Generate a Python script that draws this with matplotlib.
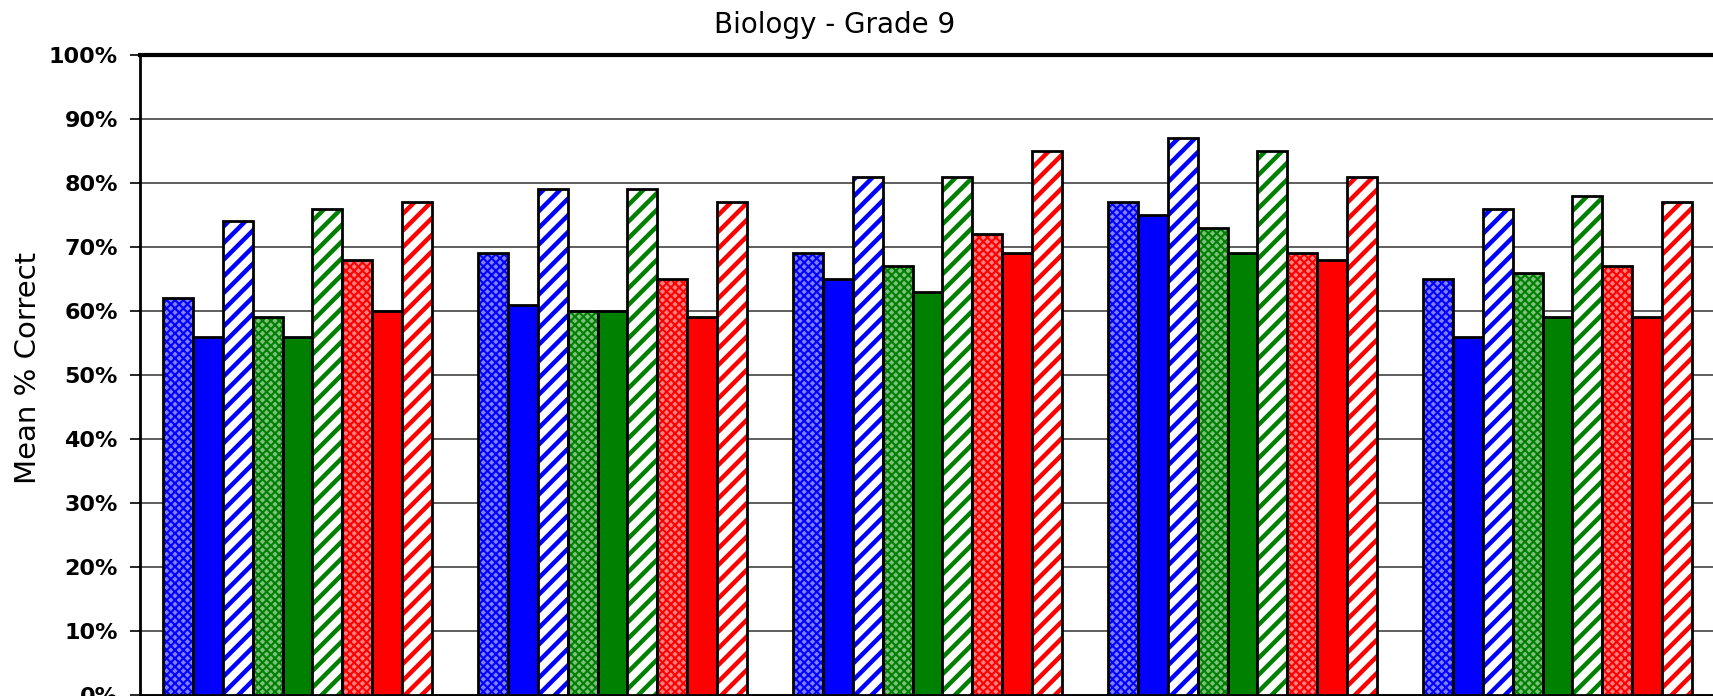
import numpy as np
import matplotlib
matplotlib.use('Agg')
import matplotlib.pyplot as plt

# Values (mean % correct), 5 groups x 9 series
groups = ['Group 1', 'Group 2', 'Group 3', 'Group 4', 'Group 5']
blue_cross = [62, 69, 69, 77, 65]
blue_solid = [56, 61, 65, 75, 56]
blue_stripe = [74, 79, 81, 87, 76]
green_cross = [59, 60, 67, 73, 66]
green_solid = [56, 60, 63, 69, 59]
green_stripe = [76, 79, 81, 85, 78]
red_cross = [68, 65, 72, 69, 67]
red_solid = [60, 59, 69, 68, 59]
red_stripe = [77, 77, 85, 81, 77]

series = [
    (blue_cross, '#0000FF', 'cross'),
    (blue_solid, '#0000FF', 'solid'),
    (blue_stripe, '#0000FF', 'stripe'),
    (green_cross, '#008000', 'cross'),
    (green_solid, '#008000', 'solid'),
    (green_stripe, '#008000', 'stripe'),
    (red_cross, '#FF0000', 'cross'),
    (red_solid, '#FF0000', 'solid'),
    (red_stripe, '#FF0000', 'stripe'),
]

tints = {'#0000FF': '#8080ff', '#008000': '#7fbf7f', '#FF0000': '#ff8080'}

fig = plt.figure(figsize=(17.13, 6.96), dpi=100)
# axes runs off the right and bottom edge like the cropped original
ax = fig.add_axes([140 / 1713, 1 / 696, 1575 / 1713, 640 / 696])

x = np.arange(len(groups))
w = 0.095
for i, (vals, col, style) in enumerate(series):
    pos = x + (i - 4) * w
    if style == 'solid':
        ax.bar(pos, vals, w, color=col, edgecolor='black', linewidth=2, zorder=3)
        continue
    if style == 'cross':
        with plt.rc_context({'hatch.linewidth': 1.5}):
            ax.bar(pos, vals, w, facecolor=tints[col], edgecolor=col,
                   hatch='xxxx', linewidth=0, zorder=3)
    else:
        with plt.rc_context({'hatch.linewidth': 3.2}):
            ax.bar(pos, vals, w, facecolor='white', edgecolor=col,
                   hatch='//', linewidth=0, zorder=3)
    ax.bar(pos, vals, w, fill=False, edgecolor='black', linewidth=2, zorder=4)

ax.set_xlim(-0.5, len(groups) - 0.5)
ax.set_ylim(0, 100)
ax.set_yticks(np.arange(0, 101, 10))
ax.set_yticklabels([f'{v}%' for v in range(0, 101, 10)],
                   fontsize=16, fontweight='bold')
ax.set_xticks([])
ax.tick_params(axis='y', direction='out', length=7, width=1.2, pad=9)
ax.yaxis.grid(True, color='#333333', linewidth=1.1, zorder=0)
ax.set_axisbelow(True)

ax.spines['top'].set_linewidth(3)
ax.spines['left'].set_linewidth(2)
ax.spines['bottom'].set_linewidth(2)
ax.spines['right'].set_visible(False)

fig.text(835 / 1713, 1 - 25 / 696, 'Biology - Grade 9', fontsize=20,
         ha='center', va='center')
fig.text(28 / 1713, 1 - 368 / 696, 'Mean % Correct', fontsize=21,
         rotation=90, ha='center', va='center')

fig.savefig('out.png', dpi=100)
